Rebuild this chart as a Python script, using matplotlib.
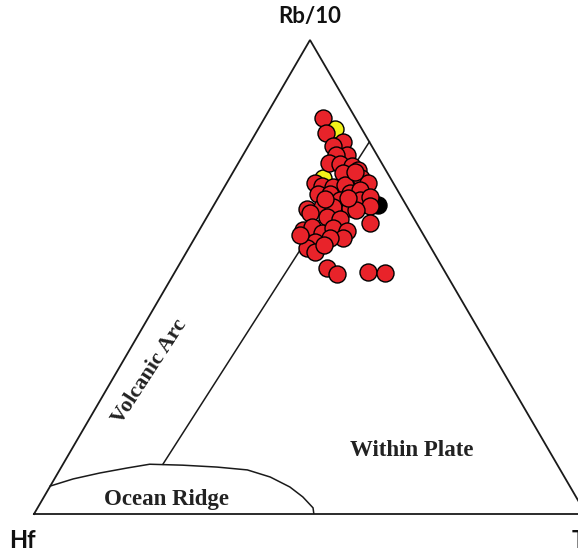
import numpy as np
import matplotlib
matplotlib.use("Agg")
import matplotlib.pyplot as plt

# Hf - Rb/10 - Ta*3 discrimination diagram (Harris et al., 1986)
# Compositions in percent of the (Hf + Rb/10 + Ta*3) sum.

# Granite samples
rb10_red = [83.5, 80.4, 78.5, 77.6, 75.7, 75.7, 74.1, 73.8, 73.4, 72.6,
            71.9, 70.9, 69.8, 69.8, 69.2, 69.0, 69.4, 67.5, 67.5, 67.7,
            68.4, 66.2, 66.9, 66.2, 65.0, 64.3, 64.8, 64.8, 64.6, 63.5,
            62.7, 62.2, 64.1, 61.4, 59.9, 60.5, 59.3, 60.3, 59.7, 58.2,
            58.2, 57.4, 56.1, 55.3, 56.8, 51.9, 50.6, 51.1, 50.8, 66.7,
            72.2, 66.5, 58.9]
ta3_red = [10.6, 12.7, 16.7, 15.3, 18.8, 16.8, 16.4, 18.5, 20.9, 22.4,
           20.0, 23.8, 25.6, 16.0, 17.6, 19.7, 21.6, 17.7, 19.9, 23.4,
           24.9, 25.9, 27.4, 22.3, 28.4, 17.3, 19.8, 21.8, 25.0, 18.2,
           21.8, 24.3, 26.3, 30.2, 18.8, 20.1, 22.5, 24.0, 26.8, 26.9,
           24.5, 22.2, 21.4, 23.3, 24.2, 27.1, 29.6, 35.0, 38.2, 23.6,
           22.1, 19.5, 18.8]

rb10_yellow = [81.2, 70.9]
ta3_yellow = [13.9, 16.9]

rb10_black = [65.2]
ta3_black = [29.7]

# Field boundaries
vag_wpg_rb10 = [10.5, 78.5]
vag_wpg_ta3 = [18.1, 21.5]

orb_rb10 = [5.9, 7.4, 8.65, 9.7, 10.5, 10.3, 9.9, 9.3, 7.8, 5.7, 3.6, 1.3, 0.0]
orb_ta3 = [0.0, 3.4, 7.6, 12.0, 15.7, 21.8, 28.2, 34.0, 38.9, 43.5, 46.9, 49.9, 50.7]


def to_xy(rb, ta):
    """Ternary (Rb/10, Ta*3) percentages -> Cartesian; Hf at the origin."""
    rb = np.asarray(rb, dtype=float) / 100.0
    ta = np.asarray(ta, dtype=float) / 100.0
    return ta + rb / 2.0, rb


W, H = 578, 554
fig = plt.figure(figsize=(W / 100, H / 100), dpi=100)
fig.patch.set_facecolor("white")

# Triangle frame: Hf corner, Ta*3 corner and Rb/10 apex
ax = fig.add_axes([34 / W, 40 / H, 552 / W, 474 / H])
ax.set_xlim(0, 1)
ax.set_ylim(0, 1)
ax.axis("off")

cx, cy = to_xy([0, 0, 100, 0], [0, 100, 0, 0])
ax.plot(cx, cy, color="#1a1a1a", lw=1.3, clip_on=False, solid_joinstyle="miter")

x, y = to_xy(vag_wpg_rb10, vag_wpg_ta3)
ax.plot(x, y, color="#1a1a1a", lw=1.1)

x, y = to_xy(orb_rb10, orb_ta3)
ax.plot(x, y, color="#1a1a1a", lw=1.1)

# Samples
kw = dict(s=150, edgecolors="black", linewidths=1.0)
x, y = to_xy(rb10_yellow, ta3_yellow)
ax.scatter(x, y, c="#f2f21a", zorder=3, **kw)
x, y = to_xy(rb10_black, ta3_black)
ax.scatter(x, y, c="black", zorder=3, **kw)
x, y = to_xy(rb10_red, ta3_red)
ax.scatter(x, y, c="#e8232a", zorder=4, **kw)


def px(xp, yp):
    return xp / W, 1 - yp / H


serif = dict(family="Liberation Serif", fontweight="bold", color="#222222")
fig.text(*px(166, 500), "Ocean Ridge", ha="center", va="center", fontsize=16.5, **serif)
fig.text(*px(412, 451), "Within Plate", ha="center", va="center", fontsize=16.5, **serif)
fig.text(*px(150, 372), "Volcanic Arc", ha="center", va="center", fontsize=16,
         rotation=57, rotation_mode="anchor", **serif)

sans = dict(family="Lato", fontweight="bold", color="#111111")
fig.text(*px(310, 17), "Rb/10", ha="center", va="center", fontsize=16, **sans)
fig.text(*px(22, 540), "Hf", ha="center", va="center", fontsize=17, **sans)
fig.text(*px(572, 540), "Ta*3", ha="left", va="center", fontsize=17, **sans)

fig.savefig("out.png", dpi=100, facecolor="white")
